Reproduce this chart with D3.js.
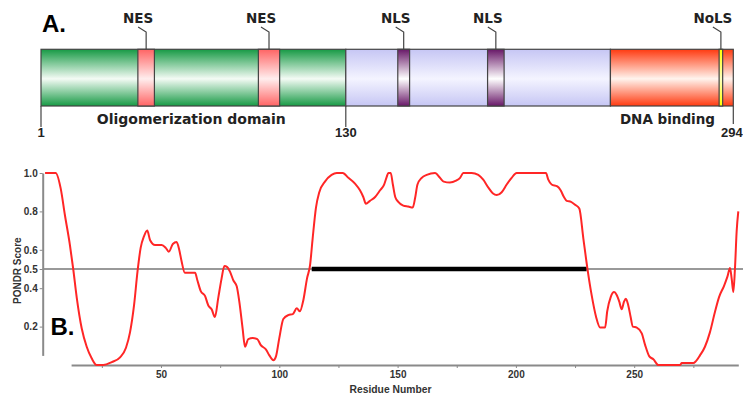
<!DOCTYPE html>
<html>
<head>
<meta charset="utf-8">
<script src="https://cdn.jsdelivr.net/npm/d3@7"></script>
<style>
  body { margin: 0; background: #fff; }
  svg { display: block; }
</style>
</head>
<body>
<svg id="chart"></svg>
<script>
const width = 743;
const height = 396;

// Panel A: protein domains (residue ranges)
const domainNames = ["Oligomerization domain", "", "DNA binding"];
const domainStart = [1, 130, 242];
const domainEnd = [130, 242, 294];
const domainColor = ["green", "lavender", "orange"];

const motifNames = ["NES", "NES", "NLS", "NLS", "NoLS"];
const motifStart = [42, 93, 152, 190, 288];
const motifEnd = [49, 102, 157, 197, 289.5];
const motifColor = ["pink", "pink", "purple", "purple", "yellow"];

const positionLabels = [1, 130, 294];

// Panel B: PONDR score per residue
const residues = [1, 5.5, 7.6, 9.4, 11.5, 12.9, 14.4, 16.5, 18.6, 20.7, 22.8, 25.6, 29.2, 32.7, 35.2, 36.9,
  38.6, 40.1, 41.4, 42.8, 44.2, 45.4, 47.5, 50.3, 52, 53.3, 55, 56.6, 57.7, 58.7, 60.1, 62.3, 64.4,
  65.4, 66.8, 68.6, 70, 71.4, 72.8, 74.2, 75.6, 76.8, 78, 79.2, 80.6, 82, 83.1, 84.5, 85.5, 86.9,
  88.8, 90.7, 92.1, 94.4, 95.8, 97.5, 98.6, 100, 101.7, 103.8, 105.7, 107.4, 108.7, 110.2, 111.7,
  113, 114.1, 115.5, 116.9, 119.3, 122.1, 124.3, 126.8, 129.2, 132, 134.1, 135.5, 136.6, 138.3,
  140.5, 142.6, 144.3, 145.4, 146.1, 147.1, 148, 149, 150.3, 152.4, 154.5, 156.4, 157.4, 158.4,
  160.2, 162.3, 165.8, 167.9, 169.5, 172.1, 174.7, 176.4, 177.8, 181.3, 184.1, 186.2, 188.3, 190.2,
  191.9, 194, 196.1, 198.2, 200.3, 212.7, 213.7, 215.1, 217.5, 218.9, 220.3, 221.5, 223.3, 225,
  226.8, 228.5, 230.2, 232, 233.9, 235.6, 237.7, 238.6, 240.1, 241.5, 242.6, 243.7, 244.7, 245.7,
  246.5, 247.5, 248.5, 249.4, 251.1, 253.2, 254.6, 256.4, 258.1, 260.2, 269.4, 270.1, 275, 276.1,
  277.8, 279.9, 282, 284.2, 285.9, 287.9, 289.4, 290.5, 291.2, 291.9, 292.6, 293.3, 294];
const scores = [1, 1, 0.92, 0.78, 0.625, 0.5, 0.35, 0.19, 0.095, 0.035, 0, 0, 0.015, 0.04, 0.09, 0.17,
  0.31, 0.49, 0.61, 0.67, 0.7, 0.65, 0.625, 0.625, 0.61, 0.59, 0.63, 0.64, 0.6, 0.54, 0.48, 0.48, 0.48,
  0.44, 0.385, 0.36, 0.31, 0.29, 0.25, 0.35, 0.45, 0.515, 0.51, 0.485, 0.44, 0.41, 0.33, 0.19, 0.095, 0.135,
  0.14, 0.135, 0.105, 0.08, 0.05, 0.025, 0.045, 0.14, 0.24, 0.26, 0.265, 0.295, 0.28, 0.34, 0.45,
  0.52, 0.66, 0.82, 0.9, 0.955, 0.99, 1, 1, 0.975, 0.945, 0.91, 0.875, 0.84, 0.855,
  0.875, 0.91, 0.94, 0.98, 1, 1, 0.94, 0.875, 0.85, 0.83, 0.825, 0.82, 0.87, 0.94,
  0.975, 0.99, 1, 0.975, 0.955, 0.95, 0.96, 0.975, 1, 1, 0.99, 0.965, 0.925, 0.895,
  0.885, 0.9, 0.94, 0.975, 1, 1, 0.965, 0.94, 0.93, 0.91, 0.875, 0.855, 0.85, 0.835,
  0.815, 0.66, 0.505, 0.365, 0.25, 0.195, 0.195, 0.28, 0.355, 0.38, 0.365, 0.33, 0.29, 0.33,
  0.345, 0.31, 0.25, 0.2, 0.195, 0.165, 0.105, 0.045, 0.03, 0, 0, 0.01, 0.01, 0.02,
  0.05, 0.095, 0.17, 0.28, 0.355, 0.41, 0.46, 0.505, 0.45, 0.38, 0.505, 0.695, 0.8];

const threshold = 0.5;
const disorderedRange = [113.7, 229.9];
const yTicks = [0.2, 0.4, 0.5, 0.6, 0.8, 1.0];
const xTicks = [25, 50, 75, 100, 125, 150, 175, 200, 225, 250, 275];

const svg = d3.select("#chart").attr("width", width).attr("height", height);
const defs = svg.append("defs");

// vertical "tube" gradients: dark at edges, pale in the middle
const gradients = {
  green: ["#179a45", "#f4fbf5"],
  lavender: ["#c6c6f4", "#f4f4ff"],
  orange: ["#ff3a10", "#fff4ee"],
  pink: ["#ff6464", "#ffeeee"],
  purple: ["#681868", "#ffffff"],
  yellow: ["#ffff00", "#ffffc0"]
};
Object.entries(gradients).forEach(([k, c]) => {
  const g = defs.append("linearGradient").attr("id", "g-" + k)
    .attr("x1", 0).attr("y1", 0).attr("x2", 0).attr("y2", 1);
  g.append("stop").attr("offset", "0%").attr("stop-color", c[0]);
  g.append("stop").attr("offset", "52%").attr("stop-color", c[1]);
  g.append("stop").attr("offset", "100%").attr("stop-color", c[0]);
});

// ---------- Panel A ----------
const pos = d3.scaleLinear().domain([1, 294]).range([41, 733.3]);
const barTop = 49.3, barBottom = 106;
const topFont = "DejaVu Sans, Verdana, sans-serif";

const dom = d3.range(domainNames.length);
svg.selectAll("rect.domain").data(dom).enter().append("rect")
  .attr("class", "domain")
  .attr("x", i => pos(domainStart[i]))
  .attr("width", i => pos(domainEnd[i]) - pos(domainStart[i]))
  .attr("y", barTop).attr("height", barBottom - barTop)
  .attr("fill", i => "url(#g-" + domainColor[i] + ")")
  .attr("stroke", "#444").attr("stroke-width", 1.2);

const mot = d3.range(motifNames.length);
svg.selectAll("rect.motif").data(mot).enter().append("rect")
  .attr("class", "motif")
  .attr("x", i => pos(motifStart[i]))
  .attr("width", i => pos(motifEnd[i]) - pos(motifStart[i]))
  .attr("y", barTop).attr("height", barBottom - barTop)
  .attr("fill", i => "url(#g-" + motifColor[i] + ")")
  .attr("stroke", "#444").attr("stroke-width", 1.2);

// leaders and motif labels
mot.forEach(i => {
  const cx = (pos(motifStart[i]) + pos(motifEnd[i])) / 2;
  svg.append("path")
    .attr("d", `M${cx - 8},27 L${cx},32 L${cx},${barTop}`)
    .attr("fill", "none").attr("stroke", "#444").attr("stroke-width", 1.2);
  svg.append("text")
    .attr("x", cx - 8).attr("y", 23)
    .attr("text-anchor", "middle")
    .attr("font-family", topFont).attr("font-weight", "bold")
    .attr("font-size", 13.5).attr("fill", "#222")
    .text(motifNames[i]);
});

// position markers
positionLabels.forEach(p => {
  svg.append("line")
    .attr("x1", pos(p)).attr("x2", pos(p))
    .attr("y1", barBottom).attr("y2", p === 294 ? 124 : 127)
    .attr("stroke", "#444").attr("stroke-width", 1.2);
  svg.append("text")
    .attr("x", p === 294 ? pos(p) - 1.5 : pos(p)).attr("y", 136.5)
    .attr("text-anchor", "middle")
    .attr("font-family", "Liberation Sans, Arial, sans-serif").attr("font-weight", "bold")
    .attr("font-size", 13).attr("fill", "#222")
    .text(p);
});

// domain labels under the bar
svg.append("text").attr("x", 191.3).attr("y", 124)
  .attr("text-anchor", "middle")
  .attr("font-family", topFont).attr("font-weight", "bold")
  .attr("font-size", 14).attr("fill", "#222")
  .text(domainNames[0]);
svg.append("text").attr("x", 715).attr("y", 124)
  .attr("text-anchor", "end")
  .attr("font-family", topFont).attr("font-weight", "bold")
  .attr("font-size", 13.5).attr("fill", "#222")
  .text(domainNames[2]);

svg.append("text").attr("x", 42).attr("y", 31.5)
  .attr("font-family", "Liberation Sans, Arial, sans-serif").attr("font-weight", "bold")
  .attr("font-size", 24).attr("fill", "#000")
  .text("A.");

// ---------- Panel B ----------
const x = d3.scaleLinear().domain([0, 294]).range([42.7, 738.3]);
const y = d3.scaleLinear().domain([0, 1]).range([365, 173]);
const axisFont = "Liberation Sans, Arial, sans-serif";

// threshold line
svg.append("line")
  .attr("x1", x(0)).attr("x2", width)
  .attr("y1", y(threshold)).attr("y2", y(threshold))
  .attr("stroke", "#777").attr("stroke-width", 1.3);

// disordered region bar
svg.append("line")
  .attr("x1", x(disorderedRange[0])).attr("x2", x(disorderedRange[1]))
  .attr("y1", y(threshold)).attr("y2", y(threshold))
  .attr("stroke", "#000").attr("stroke-width", 4.5);

// axes
const ya = y.copy().domain([0.05, 1]).range([y(0.05), y(1)]);
const gy = svg.append("g").attr("transform", `translate(${x(0)},0)`)
  .call(d3.axisLeft(ya).tickValues(yTicks).tickFormat(d3.format(".1f"))
    .tickSizeInner(3).tickSizeOuter(0).tickPadding(2));
gy.select(".domain").attr("stroke", "#8a8a8a").attr("stroke-width", 2);
gy.selectAll(".tick line").attr("stroke", "#8a8a8a");
gy.selectAll("text").attr("font-family", axisFont).attr("font-weight", "bold")
  .attr("font-size", 10).attr("fill", "#333");

const xa = x.copy().domain([12, 294]).range([x(12), x(294)]);
const gx = svg.append("g").attr("transform", `translate(0,${y(0)})`)
  .call(d3.axisBottom(xa).tickValues(xTicks)
    .tickFormat(d => d % 50 === 0 ? d : "")
    .tickSizeInner(3).tickSizeOuter(0).tickPadding(3));
gx.select(".domain").attr("stroke", "#8a8a8a").attr("stroke-width", 2);
gx.selectAll(".tick line").attr("stroke", "#8a8a8a");
gx.selectAll("text").attr("font-family", axisFont).attr("font-weight", "bold")
  .attr("font-size", 10).attr("fill", "#333");

// PONDR curve
const line = d3.line()
  .x(i => x(residues[i]))
  .y(i => y(scores[i]))
  .curve(d3.curveMonotoneX);
svg.append("path")
  .datum(d3.range(residues.length))
  .attr("d", line)
  .attr("fill", "none")
  .attr("stroke", "#ff2626")
  .attr("stroke-width", 2)
  .attr("stroke-linejoin", "round");

// axis titles
svg.append("text").attr("x", 390.5).attr("y", 393)
  .attr("text-anchor", "middle")
  .attr("font-family", axisFont).attr("font-weight", "bold")
  .attr("font-size", 10.3).attr("fill", "#333")
  .text("Residue Number");
svg.append("text")
  .attr("transform", "translate(20.5,270.7) rotate(-90)")
  .attr("text-anchor", "middle")
  .attr("font-family", axisFont).attr("font-weight", "bold")
  .attr("font-size", 10).attr("fill", "#333")
  .text("PONDR Score");

svg.append("text").attr("x", 50.5).attr("y", 335)
  .attr("font-family", axisFont).attr("font-weight", "bold")
  .attr("font-size", 24).attr("fill", "#000")
  .text("B.");
</script>
</body>
</html>
